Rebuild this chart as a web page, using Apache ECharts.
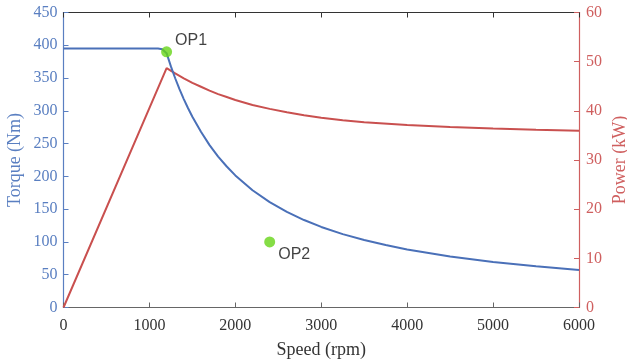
<!DOCTYPE html>
<html>
<head>
<meta charset="utf-8">
<script src="https://cdn.jsdelivr.net/npm/echarts@6/dist/echarts.min.js"></script>
<style>html,body{margin:0;padding:0;background:#fff}#c{width:627px;height:362px}</style>
</head>
<body>
<div id="c"></div>
<script>
// ---- data ----
const torqueSpeed = [0, 1100, 1150, 1200, 1250, 1300, 1350, 1400, 1450, 1500, 1600, 1700, 1800, 1900, 2000, 2200, 2400, 2600, 2800, 3000, 3250, 3500, 3750, 4000, 4500, 5000, 5500, 6000];
const torque      = [395, 395, 394, 388, 367.8, 349.7, 333.2, 317.9, 303.9, 290.9, 268.0, 247.7, 230.2, 215.1, 201.5, 178.8, 160.7, 145.8, 133.4, 122.9, 111.9, 102.9, 95.2, 88.6, 77.9, 69.5, 62.8, 57.2];
const powerSpeed  = [0, 1200, 1300, 1400, 1500, 1600, 1700, 1800, 1900, 2000, 2200, 2400, 2600, 2800, 3000, 3250, 3500, 4000, 4500, 5000, 5500, 6000];
const power       = [0, 48.7, 47.6, 46.6, 45.7, 44.9, 44.1, 43.4, 42.8, 42.2, 41.2, 40.4, 39.7, 39.1, 38.6, 38.1, 37.7, 37.1, 36.7, 36.4, 36.15, 35.95];
const opNames  = ['OP1', 'OP2'];
const opSpeed  = [1200, 2400];
const opTorque = [390, 100];
const xTicks = [0, 1000, 2000, 3000, 4000, 5000, 6000];

const BLUE = '#4a70b8', RED = '#c9504f', GREEN = '#66d418';
const LBLUE = '#5a7fc1', LRED = '#cf5f5f';
const SERIF = 'Liberation Serif';

const chart = echarts.init(document.getElementById('c'), null, {renderer: 'canvas'});
const opOffsets = [[0, -11], [0, 13]];
chart.setOption({
  animation: false,
  grid: {left: 63.5, right: 48, top: 12.5, bottom: 54.5, containLabel: false, outerBoundsMode: 'none'},
  xAxis: [{
    type: 'value', min: xTicks[0], max: xTicks[xTicks.length - 1], interval: 1000,
    name: 'Speed (rpm)', nameLocation: 'middle', nameGap: 34,
    nameTextStyle: {fontFamily: SERIF, fontSize: 18, color: '#333'},
    axisLine: {onZero: false, lineStyle: {color: '#666', width: 1.2}},
    axisTick: {inside: true, length: 5, lineStyle: {color: '#666'}},
    axisLabel: {fontFamily: SERIF, fontSize: 16, color: '#333', margin: 10, formatter: v => String(v)},
    splitLine: {show: false}
  }, {
    type: 'value', position: 'top', min: 0, max: 6000, interval: 1000,
    axisLine: {show: true, onZero: false, lineStyle: {color: '#333', width: 1}},
    axisTick: {show: true, inside: true, length: 5, lineStyle: {color: '#333'}},
    axisLabel: {show: false}, splitLine: {show: false}
  }],
  yAxis: [{
    type: 'value', min: 0, max: 450, interval: 50, position: 'left',
    name: 'Torque (Nm)', nameLocation: 'middle', nameGap: 39, nameRotate: 90, nameMoveOverlap: false,
    nameTextStyle: {fontFamily: SERIF, fontSize: 18, color: LBLUE},
    axisLine: {show: true, onZero: false, lineStyle: {color: LBLUE, width: 1.2}},
    axisTick: {show: true, inside: true, length: 5, lineStyle: {color: LBLUE}},
    axisLabel: {fontFamily: SERIF, fontSize: 16, color: LBLUE, margin: 6},
    splitLine: {show: false}
  }, {
    type: 'value', min: 0, max: 60, interval: 10, position: 'right',
    name: 'Power (kW)', nameLocation: 'middle', nameGap: 32, nameRotate: 90, nameMoveOverlap: false,
    nameTextStyle: {fontFamily: SERIF, fontSize: 18, color: LRED},
    axisLine: {show: true, onZero: false, lineStyle: {color: LRED, width: 1.2}},
    axisTick: {show: true, inside: true, length: 5, lineStyle: {color: LRED}},
    axisLabel: {fontFamily: SERIF, fontSize: 16, color: LRED, margin: 7},
    splitLine: {show: false}
  }],
  series: [{
    type: 'line', name: 'Power', xAxisIndex: 0, yAxisIndex: 1,
    data: powerSpeed.map((s, i) => [s, power[i]]),
    showSymbol: false, smooth: false,
    lineStyle: {color: RED, width: 2}
  }, {
    type: 'line', name: 'Torque', xAxisIndex: 0, yAxisIndex: 0,
    data: torqueSpeed.map((s, i) => [s, torque[i]]),
    showSymbol: false, smooth: false,
    lineStyle: {color: BLUE, width: 2}
  }, {
    type: 'scatter', xAxisIndex: 0, yAxisIndex: 0, symbolSize: 11, z: 5,
    itemStyle: {color: GREEN},
    data: opNames.map((n, i) => ({
      name: n, value: [opSpeed[i], opTorque[i]],
      label: {show: true, position: 'right', distance: 3, offset: opOffsets[i],
        formatter: '{b}', fontFamily: 'Liberation Sans', fontSize: 16, color: '#111'}
    }))
  }]
});
</script>
</body>
</html>
